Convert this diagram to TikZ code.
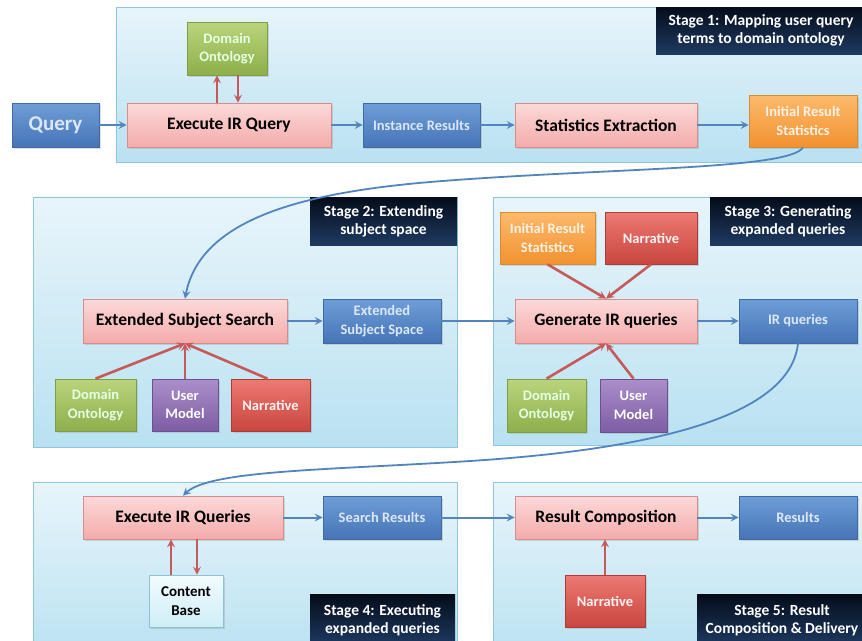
\documentclass[tikz,border=0pt]{standalone}
\usepackage{fontspec}
\setmainfont{Carlito}
\usetikzlibrary{arrows.meta,shadows,calc}
\definecolor{stt}{HTML}{E8F5FB}
\definecolor{stb}{HTML}{B9E1F1}
\definecolor{std}{HTML}{8FC6DD}
\definecolor{bluet}{HTML}{6E9ED8}
\definecolor{blueb}{HTML}{4674B6}
\definecolor{blued}{HTML}{4169A3}
\definecolor{bluetext}{HTML}{DCE7F6}
\definecolor{pinkt}{HTML}{FCD9D9}
\definecolor{pinkb}{HTML}{F4ABAB}
\definecolor{pinkd}{HTML}{D88C8C}
\definecolor{greent}{HTML}{BAD47C}
\definecolor{greenb}{HTML}{8EAF4C}
\definecolor{greend}{HTML}{7E9E43}
\definecolor{purpt}{HTML}{AB8ECA}
\definecolor{purpb}{HTML}{7D5DA4}
\definecolor{purpd}{HTML}{6C5092}
\definecolor{redt}{HTML}{EC7A73}
\definecolor{redb}{HTML}{C9463F}
\definecolor{redd}{HTML}{AE3B36}
\definecolor{orat}{HTML}{FCBA6C}
\definecolor{orab}{HTML}{F29230}
\definecolor{orad}{HTML}{DB8A33}
\definecolor{cbt}{HTML}{F2FBFE}
\definecolor{cbb}{HTML}{CFEDF6}
\definecolor{cbd}{HTML}{8DC2D5}
\definecolor{labt}{HTML}{050C1A}
\definecolor{labb}{HTML}{1E3A62}
\definecolor{arrblue}{HTML}{5285BD}
\definecolor{arrred}{HTML}{C65A5A}
\begin{document}
\begin{tikzpicture}[x=1pt,y=-1pt,
  box/.style={draw, line width=0.7pt, inner sep=1pt, align=center,
    font=\fontsize{14.5}{18.5}\selectfont\bfseries,
    drop shadow={shadow xshift=1.5pt,shadow yshift=-1.5pt,opacity=0.25}},
  bluebox/.style={box, top color=bluet, bottom color=blueb, draw=blued, text=bluetext},
  pinkbox/.style={box, top color=pinkt, bottom color=pinkb, draw=pinkd, text=black,
    font=\fontsize{17.5}{20}\selectfont\bfseries},
  greenbox/.style={box, top color=greent, bottom color=greenb, draw=greend, text=white!90!green},
  purpbox/.style={box, top color=purpt, bottom color=purpb, draw=purpd, text=white},
  redbox/.style={box, top color=redt, bottom color=redb, draw=redd, text=white!95!red},
  orabox/.style={box, top color=orat, bottom color=orab, draw=orad, text=white!90!orange},
  cbbox/.style={box, top color=cbt, bottom color=cbb, draw=cbd, text=black,
    font=\fontsize{15}{19}\selectfont\bfseries},
  labbox/.style={inner sep=1pt, align=center, top color=labt, bottom color=labb, text=white,
    font=\fontsize{15.5}{18}\selectfont\bfseries},
  stagebox/.style={draw=std, line width=0.8pt, top color=stt, bottom color=stb},
  barrow/.style={draw=arrblue, line width=2pt, -{Stealth[length=8pt,width=8pt,inset=3pt]}},
  rarrow/.style={draw=arrred, line width=2.6pt, -{Stealth[length=8pt,width=8pt,inset=3pt]}},
  sz/.style 2 args={minimum width=#1pt, minimum height=#2pt}
]
\useasboundingbox (0,0) rectangle (862,640);
\fill[white] (0,0) rectangle (862,640);

% stage backgrounds
\path[stagebox] (116,7) rectangle (866,162);
\path[stagebox] (33,197) rectangle (457,447);
\path[stagebox] (493,197) rectangle (866,445);
\path[stagebox] (33,482) rectangle (457,660);
\path[stagebox] (493,482) rectangle (866,660);

% stage labels
\node[labbox, sz={210}{47}, text depth=2pt] (lab1) at (761,30.5) {Stage 1: Mapping user query\\terms to domain ontology};
\node[labbox, sz={147}{48}] (lab2) at (383.5,221) {Stage 2: Extending\\subject space};
\node[labbox, sz={156}{48}] (lab3) at (788,221) {Stage 3: Generating\\expanded queries};
\node[labbox, sz={145}{52}] (lab4) at (382.5,620) {Stage 4: Executing\\expanded queries};
\node[labbox, sz={170}{52}] (lab5) at (782,620) {Stage 5: Result\\Composition \& Delivery};

% stage 1
\node[bluebox, sz={87}{44}, font=\fontsize{21}{24}\selectfont\bfseries] (query) at (55.5,125) {Query};
\node[pinkbox, sz={204}{44}] (exec) at (229,125) {Execute IR Query};
\node[greenbox, sz={80}{53}] (dom1) at (227,48.5) {Domain\\Ontology};
\node[bluebox, sz={117}{44}] (inst) at (421.5,125) {Instance Results};
\node[pinkbox, sz={182}{44}] (stat) at (606,125) {Statistics Extraction};
\node[orabox, sz={108}{52}] (irs1) at (803,121) {Initial Result\\Statistics};

% stage 2
\node[pinkbox, sz={204}{44}] (ess) at (185,321) {Extended Subject Search};
\node[bluebox, sz={118}{44}] (esp) at (382,321) {Extended\\Subject Space};
\node[greenbox, sz={81}{52}] (dom2) at (95.5,405) {Domain\\Ontology};
\node[purpbox, sz={66}{52}] (um2) at (185,405) {User\\Model};
\node[redbox, sz={79}{52}] (nar2) at (270.5,405) {Narrative};

% stage 3
\node[orabox, sz={95}{52}] (irs3) at (547.5,238) {Initial Result\\Statistics};
\node[redbox, sz={92}{52}] (nar3) at (651,238) {Narrative};
\node[pinkbox, sz={182}{44}] (gen) at (606,321) {Generate IR queries};
\node[bluebox, sz={118}{44}] (irq) at (798,321) {IR queries};
\node[greenbox, sz={79}{53}] (dom3) at (546.5,405.5) {Domain\\Ontology};
\node[purpbox, sz={67}{53}] (um3) at (633.5,405.5) {User\\Model};

% stage 4
\node[pinkbox, sz={200}{43}] (exq) at (183,517.5) {Execute IR Queries};
\node[bluebox, sz={118}{43}] (sr) at (382,517.5) {Search Results};
\node[cbbox, sz={74}{52}] (cb) at (186,601) {Content\\Base};

% stage 5
\node[pinkbox, sz={182}{43}] (rc) at (606,517.5) {Result Composition};
\node[bluebox, sz={118}{43}] (res) at (798,517.5) {Results};
\node[redbox, sz={80}{52}] (nar5) at (605,601) {Narrative};

% blue flow arrows
\draw[barrow] (query) -- (exec);
\draw[barrow] (exec) -- (inst);
\draw[barrow] (inst) -- (stat);
\draw[barrow] (stat) -- (irs1.west |- stat.east);
\draw[barrow] (ess) -- (esp);
\draw[barrow] (esp) -- (gen);
\draw[barrow] (gen) -- (irq);
\draw[barrow] (exq) -- (sr);
\draw[barrow] (sr) -- (rc);
\draw[barrow] (rc) -- (res);

% curved connectors
\coordinate (c1) at (430,182);
\coordinate (c2) at (470,461);
\draw[barrow, line width=1.8pt] (irs1.south) .. controls (790,170) and (600,168) .. (c1)
  .. controls (300,193) and (200,220) .. (ess.north);
\draw[barrow, line width=1.8pt] (irq.south) .. controls (790,420) and (640,450) .. (c2)
  .. controls (330,470) and (210,470) .. (exq.north);

% red arrows
\draw[rarrow] ([xshift=-12pt]exec.north) -- ([xshift=-12pt]exec.north |- dom1.south);
\draw[rarrow] ([xshift=9pt]exec.north |- dom1.south) -- ([xshift=9pt]exec.north);
\draw[rarrow] (dom2.north) -- (ess.south);
\draw[rarrow] (um2.north) -- (ess.south);
\draw[rarrow] ([xshift=-3pt]nar2.north) -- (ess.south);
\draw[rarrow] (irs3.south) -- (gen.north);
\draw[rarrow] (nar3.south) -- (gen.north);
\draw[rarrow] (dom3.north) -- (gen.south);
\draw[rarrow] (um3.north) -- (gen.south);
\draw[rarrow] ([xshift=-12pt]exq.south |- cb.north) -- ([xshift=-12pt]exq.south);
\draw[rarrow] ([xshift=14pt]exq.south) -- ([xshift=14pt]exq.south |- cb.north);
\draw[rarrow] (nar5.north) -- (nar5.north |- rc.south);
\end{tikzpicture}
\end{document}
